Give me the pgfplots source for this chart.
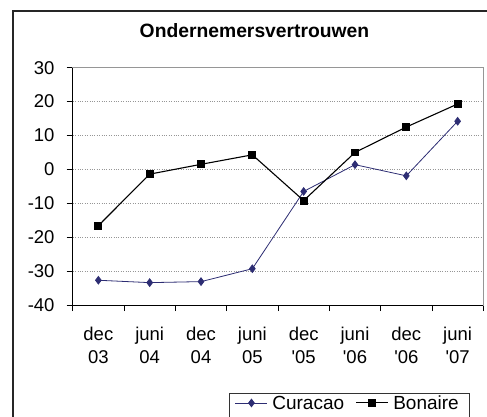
\documentclass[border=0pt]{standalone}
\usepackage{pgfplots}
\pgfplotsset{compat=1.18}
\usepackage{fontspec}
\setmainfont{Liberation Sans}
\definecolor{cur}{RGB}{45,45,115}
\definecolor{gridc}{RGB}{150,150,150}
\begin{document}
\begin{tikzpicture}[x=1pt,y=1pt]
\useasboundingbox (0,0) rectangle (487,416);
\clip (0,0) rectangle (487,416);
\draw[line width=1.3pt,black!85] (13,-10) -- (13,405) -- (500,405);
\begin{axis}[
  at={(72.7pt,111pt)}, anchor=south west,
  scale only axis, width=410.6pt, height=237.3pt,
  xmin=-0.5, xmax=7.5, ymin=-40, ymax=30,
  axis line style={gridc, line width=0.8pt},
  xtick={0,...,7},
  xticklabels={{dec\\03},{juni\\04},{dec\\04},{juni\\05},{dec\\\textquotesingle05},{juni\\\textquotesingle06},{dec\\\textquotesingle06},{juni\\\textquotesingle07}},
  minor xtick={-0.5,0.5,...,7.5},
  major x tick style={draw=none},
  minor x tick style={black, line width=0.9pt},
  ytick={-40,-30,...,30},
  yticklabels={-40,-30,-20,-10,0,10,20,30},
  major y tick style={black, line width=0.9pt},
  tick align=outside,
  major tick length=6pt, minor tick length=6pt,
  xtick pos=bottom, ytick pos=left,
  ymajorgrids,
  grid style={gridc, dotted, line width=0.8pt},
  x tick label style={font=\fontsize{18.5}{23.3}\selectfont, align=center, anchor=north, inner sep=0pt, yshift=-16pt},
  y tick label style={font=\fontsize{18.5}{22}\selectfont, anchor=east, inner sep=0pt, xshift=-12pt},
  title={\textbf{Ondernemersvertrouwen}},
  title style={font=\fontsize{19.3}{22}\selectfont, at={(0.4428,1.1028)}, anchor=base, inner sep=0pt},
  legend columns=2,
  legend style={at={(0.38,-0.3717)}, anchor=north west, draw=black!80, line width=0.7pt,
    font=\fontsize{19}{22}\selectfont, inner xsep=6pt, inner ysep=0pt,
    nodes={inner xsep=4.5pt, inner ysep=2pt, text depth=14pt},
    /tikz/every even column/.append style={column sep=7pt}},
  legend image code/.code={\draw[mark repeat=2,mark phase=2,#1] plot coordinates {(0pt,6.5pt) (16pt,6.5pt) (32pt,6.5pt)};},
  clip=false,
]
\addplot[cur, line width=0.8pt, mark=diamond*, mark size=3.8pt, mark options={solid, fill=cur}] coordinates {
(0,-32.7) (1,-33.4) (2,-33.1) (3,-29.3) (4,-6.5) (5,1.4) (6,-1.9) (7,14.2)};
\addlegendentry{Curacao}
\addplot[black, line width=1.1pt, mark=square*, mark size=3.4pt, mark options={solid, fill=black}] coordinates {
(0,-16.6) (1,-1.4) (2,1.5) (3,4.3) (4,-9.2) (5,5.0) (6,12.5) (7,19.3)};
\addlegendentry{Bonaire}
\draw[black, line width=0.9pt] (rel axis cs:0,1) -- (rel axis cs:0,0) -- (rel axis cs:1,0);
\end{axis}
\end{tikzpicture}
\end{document}
